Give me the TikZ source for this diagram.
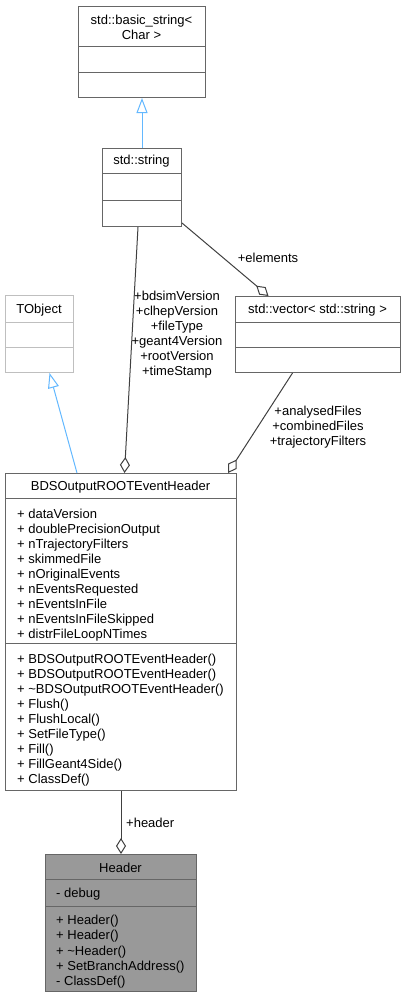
\documentclass[tikz,border=0pt]{standalone}
\usepackage{fontspec}
\setmainfont{Liberation Sans}
\usetikzlibrary{arrows.meta}

\definecolor{boxgray}{HTML}{666666}
\definecolor{lightgray}{HTML}{BFBFBF}
\definecolor{edgegray}{HTML}{404040}
\definecolor{inheritblue}{HTML}{63B8FF}
\definecolor{headgray}{HTML}{999999}

\tikzset{
  classbox/.style={draw=boxgray, fill=white, line width=1pt, inner sep=0pt, anchor=north west},
  divider/.style={draw=boxgray, line width=1pt},
  umltext/.style={inner sep=0pt, font=\fontsize{13}{15}\selectfont},
  member/.style={umltext, anchor=base west},
  title/.style={umltext, anchor=base},
  inherit/.style={draw=inheritblue, line width=1pt, -{Triangle[fill=white, length=15pt, width=11pt]}},
  aggr/.style={draw=edgegray, line width=1pt, -{Diamond[fill=white, length=16pt, width=10pt]}},
  edgelabel/.style={umltext, align=center}
}

\begin{document}
\begin{tikzpicture}[x=1pt, y=-1pt]
		\useasboundingbox (0,0) rectangle (406,997);
		
		% std::basic_string< Char >
		\node[classbox, minimum width=127pt, minimum height=91pt] (bstr) at (78,6) {};
		\draw[divider] (78,46) -- (205,46);
		\draw[divider] (78,72) -- (205,72);
		\node[title] at (141.5,24.5) {std::basic\_string<};
		\node[title] at (141.5,39.5) {Char >};
		
		% std::string
		\node[classbox, minimum width=79pt, minimum height=78pt] (str) at (102,148) {};
		\draw[divider] (102,173) -- (181,173);
		\draw[divider] (102,200) -- (181,200);
		\node[title] at (141.5,164.5) {std::string};
		
		% std::vector< std::string >
		\node[classbox, minimum width=165pt, minimum height=76pt] (vec) at (235,296) {};
		\draw[divider] (235,322) -- (400,322);
		\draw[divider] (235,347) -- (400,347);
		\node[title] at (317.5,313.5) {std::vector< std::string >};
		
		% TObject
		\node[classbox, draw=lightgray, minimum width=68pt, minimum height=77pt] (tobj) at (5,295) {};
		\draw[divider, draw=lightgray] (5,322) -- (73,322);
		\draw[divider, draw=lightgray] (5,347) -- (73,347);
		\node[title] at (39,313.5) {TObject};
		
		% BDSOutputROOTEventHeader
		\node[classbox, minimum width=231pt, minimum height=317pt] (bds) at (5,473) {};
		\draw[divider] (5,498) -- (236,498);
		\draw[divider] (5,643) -- (236,643);
		\node[title] at (120.5,490.5) {BDSOutputROOTEventHeader};
		\foreach \t [count=\i] in {dataVersion, doublePrecisionOutput, nTrajectoryFilters,
		  skimmedFile, nOriginalEvents, nEventsRequested, nEventsInFile,
		  nEventsInFileSkipped, distrFileLoopNTimes}
		  \node[member] at (17,518+15*\i-15) {+ \t};
		\foreach \t [count=\i] in {BDSOutputROOTEventHeader(), BDSOutputROOTEventHeader(),
		  \textasciitilde BDSOutputROOTEventHeader(), Flush(), FlushLocal(), SetFileType(),
		  Fill(), FillGeant4Side(), ClassDef()}
		  \node[member] at (17,663+15*\i-15) {+ \t};
		
		% Header
		\node[classbox, fill=headgray, minimum width=151pt, minimum height=137pt] (hdr) at (45,854) {};
		\draw[divider] (45,879) -- (196,879);
		\draw[divider] (45,906) -- (196,906);
		\node[title] at (120.5,872.5) {Header};
		\node[member] at (56,897.5) {- debug};
		\foreach \t [count=\i] in {+ Header(), + Header(), + \textasciitilde Header(),
		  + SetBranchAddress(), - ClassDef()}
		  \node[member] at (56,924.5+15.3*\i-15.3) {\t};
		
		% inheritance
		\draw[inherit] (str.north) -- (bstr.south);
		\draw[inherit] ([xshift=72pt]bds.north west) -- ([xshift=10pt]tobj.south);
		
		% members
		\draw[aggr] ([yshift=4pt]str.south east) -- ([xshift=-49.5pt]vec.north);
		\node[title] at (268,262.5) {+elements};
		
		\draw[aggr] ([xshift=-4pt]str.south) -- ([xshift=3.5pt]bds.north);
		\node[edgelabel] at (177,335) {+bdsimVersion\\+clhepVersion\\+fileType\\+geant4Version\\+rootVersion\\+timeStamp};
		
		\draw[aggr] ([xshift=-25.5pt]vec.south) -- ([xshift=-9pt]bds.north east);
		\node[edgelabel] at (318,427) {+analysedFiles\\+combinedFiles\\+trajectoryFilters};
		
		\draw[aggr] (bds.south) -- (hdr.north);
		\node[member] at (126,827.5) {+header};
		\end{tikzpicture}
\end{document}
